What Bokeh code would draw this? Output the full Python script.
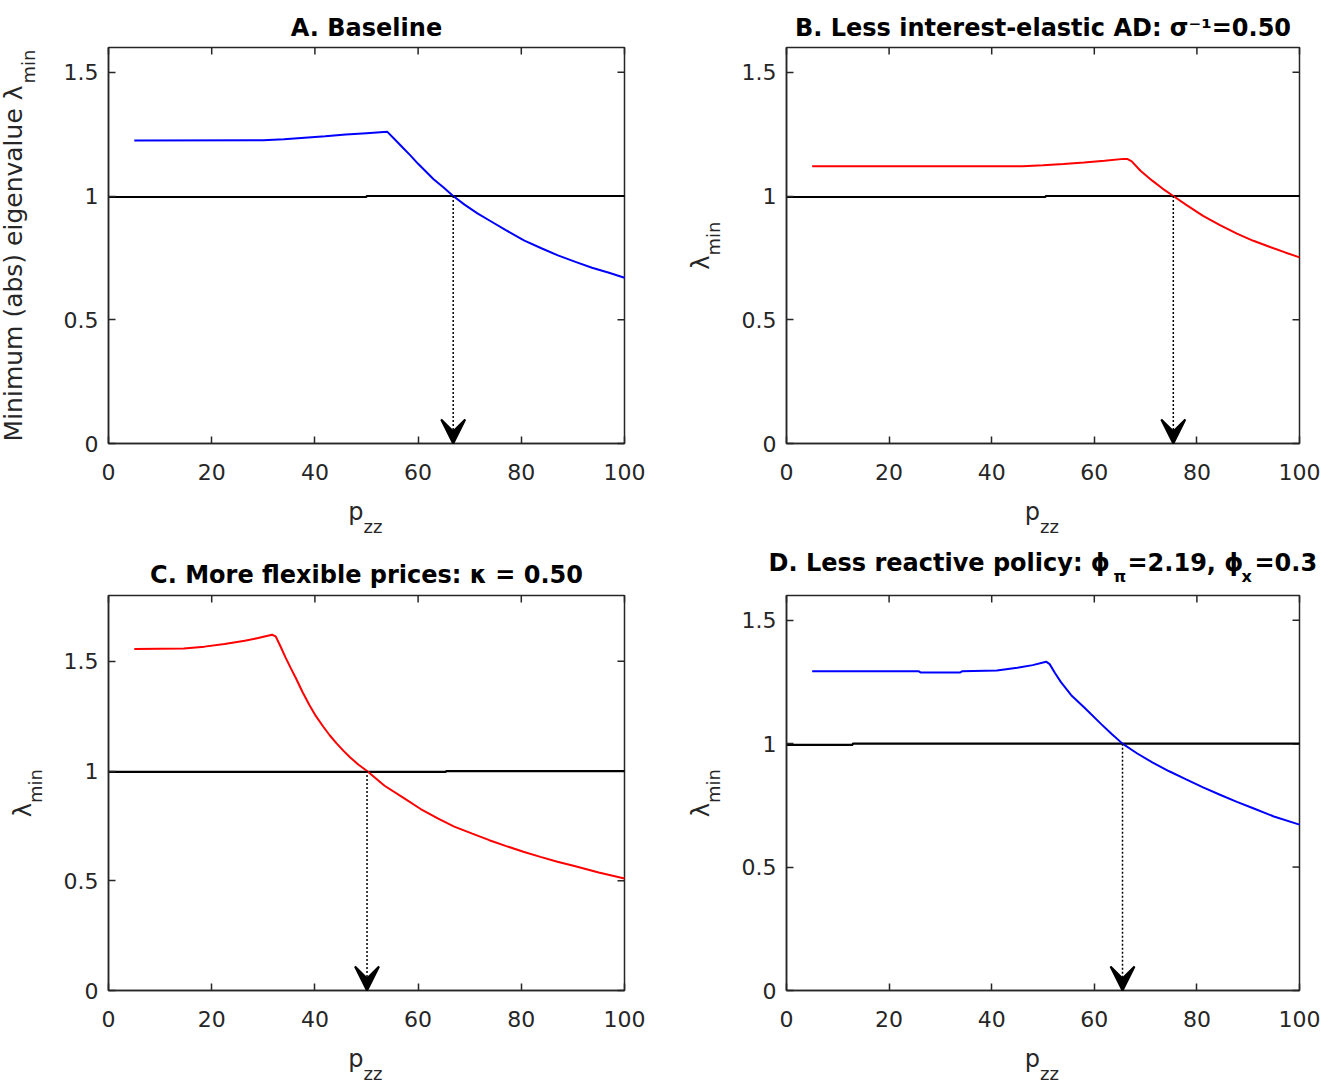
import math
from bokeh.plotting import figure
from bokeh.models import Range1d, FixedTicker, Label, Arrow, VeeHead, NumeralTickFormatter
from bokeh.layouts import column, row
from bokeh.embed import file_html
from bokeh.resources import INLINE

# ---------------- data ----------------
X_MAX = 100
x_ticks = [0, 20, 40, 60, 80, 100]
y_ticks = [0, 0.5, 1, 1.5]
y_tick_labels = ["0", "0.5", "1", "1.5"]

# Panel A: Baseline (blue)
a_x = [5, 30, 34, 38, 42, 46, 50, 54.0, 55.5, 57.0, 58.5, 60.0, 61.5, 63.0, 65.0, 66.8, 69.0, 71.5,
       74.0, 77.0, 80.6, 84.0, 87.1, 90.5, 93.7, 97.0, 100]
a_y = [1.224, 1.225, 1.229, 1.235, 1.241, 1.248, 1.254, 1.260, 1.228, 1.196, 1.164, 1.130, 1.099, 1.068,
       1.033, 1.000, 0.965, 0.930, 0.899, 0.862, 0.820, 0.788, 0.760, 0.734, 0.710, 0.690, 0.670]
a_one_x = [0, 50, 50, 100]
a_one_y = [0.996, 0.996, 1.0, 1.0]
a_cross = 66.8

# Panel B: less interest-elastic AD (red)
b_x = [5, 46, 50, 54, 58, 62, 65.7, 66.5, 67.3, 69.0, 71.3, 73.3, 75.4, 78.0, 81.2, 84.5, 87.8, 91.0,
       94.4, 97.2, 100]
b_y = [1.120, 1.120, 1.124, 1.129, 1.135, 1.142, 1.150, 1.149, 1.140, 1.102, 1.062, 1.030, 1.000, 0.963,
       0.920, 0.882, 0.848, 0.819, 0.793, 0.772, 0.752]
b_one_x = [0, 50.5, 50.5, 100]
b_one_y = [0.996, 0.996, 1.0, 1.0]
b_cross = 75.4

# Panel C: more flexible prices (red)
c_x = [5, 14.6, 18.6, 22.5, 26.4, 29.0, 31.7, 32.4, 33.3, 34.3, 35.3, 36.3, 37.6, 38.9, 40.2, 41.6,
       42.9, 44.2, 45.5, 46.8, 48.4, 50.1, 53.5, 57.4, 60.5, 63.9, 67.0, 70.5, 73.8, 77.1, 80.4, 83.7,
       87.0, 90.3, 95.0, 100]
c_y = [1.556, 1.558, 1.567, 1.579, 1.594, 1.606, 1.621, 1.614, 1.570, 1.518, 1.470, 1.424, 1.360, 1.302,
       1.250, 1.203, 1.162, 1.126, 1.093, 1.063, 1.030, 1.000, 0.933, 0.874, 0.827, 0.783, 0.747, 0.715,
       0.685, 0.658, 0.632, 0.609, 0.587, 0.567, 0.538, 0.510]
c_one_x = [0, 65.4, 65.4, 100]
c_one_y = [0.996, 0.996, 1.0, 1.0]
c_cross = 50.1

# Panel D: less reactive policy (blue)
d_x = [5, 25.8, 26.2, 33.8, 34.2, 41.0, 45.0, 48.0, 50.6, 51.3, 52.3, 53.5, 55.5, 58.1, 61.4, 63.5,
       65.5, 68.3, 71.3, 74.6, 77.9, 81.2, 84.5, 87.8, 91.1, 95.0, 100]
d_y = [1.293, 1.293, 1.288, 1.288, 1.293, 1.296, 1.307, 1.318, 1.332, 1.322, 1.287, 1.249, 1.196, 1.145,
       1.078, 1.037, 1.000, 0.961, 0.924, 0.888, 0.855, 0.823, 0.793, 0.764, 0.737, 0.705, 0.672]
d_one_x = [0, 12.9, 12.9, 100]
d_one_y = [0.995, 0.995, 1.0, 1.0]
d_cross = 65.5

# ---------------- styling ----------------
FONT = "DejaVu Sans"
AX_COL = "#262626"


def style_axis(ax, ticks, lo, hi, standoff):
    ax.fixed_location = 0
    ax.bounds = (lo, hi)
    ax.ticker = FixedTicker(ticks=ticks)
    ax.major_tick_in = 7
    ax.major_tick_out = 0
    ax.minor_tick_in = 0
    ax.minor_tick_out = 0
    ax.axis_line_color = AX_COL
    ax.axis_line_width = 1.5
    ax.major_tick_line_color = AX_COL
    ax.major_tick_line_width = 1.5
    ax.major_label_text_font = FONT
    ax.major_label_text_color = AX_COL
    ax.major_label_text_font_size = "22px"
    ax.major_label_standoff = standoff


def make_panel(cell_w, cell_h, box_l, box_t, box_w, box_h, y_max, xs, ys, color, one_x, one_y, cross):
    px_x = box_w / X_MAX
    px_y = box_h / y_max
    xr = Range1d(-box_l / px_x, X_MAX + (cell_w - box_l - box_w) / px_x)
    yr = Range1d(-(cell_h - box_t - box_h) / px_y, y_max + box_t / px_y)
    p = figure(width=cell_w, height=cell_h, x_range=xr, y_range=yr,
               output_backend="svg", toolbar_location=None, tools="", min_border=0)
    p.xgrid.visible = False
    p.ygrid.visible = False
    p.outline_line_color = None
    p.background_fill_color = "white"
    p.border_fill_color = "white"

    style_axis(p.xaxis[0], x_ticks, 0, X_MAX, 20)
    style_axis(p.yaxis[0], y_ticks, 0, y_max, 10)
    p.yaxis[0].formatter = NumeralTickFormatter(format="0.[0]")
    p.yaxis[0].major_label_overrides = dict(zip(y_ticks, y_tick_labels))

    # box and inward ticks on the top and right sides
    p.quad(left=[0], right=[X_MAX], bottom=[0], top=[y_max], fill_color=None,
           line_color=AX_COL, line_width=1.5)
    p.ray(x=[X_MAX] * len(y_ticks), y=y_ticks, length=7, length_units="screen",
          angle=math.pi, line_color=AX_COL, line_width=1.5)
    p.ray(x=x_ticks, y=[y_max] * len(x_ticks), length=7, length_units="screen",
          angle=-math.pi / 2, line_color=AX_COL, line_width=1.5)

    p.line(one_x, one_y, line_color="black", line_width=2.2)
    p.line(xs, ys, line_color=color, line_width=2)
    p.add_layout(Arrow(x_start=cross, y_start=1.0, x_end=cross, y_end=0.0,
                       line_color="black", line_width=1.5, line_dash="2 2",
                       end=VeeHead(size=24, fill_color="black", line_color="black", line_width=2)))
    return p


def add_text(p, text, x, y, xo, yo, size, align="center", bold=False, angle=0):
    p.add_layout(Label(x=x, y=y, x_offset=xo, y_offset=yo, text=text, text_font=FONT,
                       text_font_size=f"{size}px", text_font_style="bold" if bold else "normal",
                       text_color="black" if bold else AX_COL, text_align=align,
                       text_baseline="alphabetic", angle=angle, angle_units="deg"))


def add_xlabel(p):
    add_text(p, "p", 50, 0, -3, -68, 24, align="right")
    add_text(p, "zz", 50, 0, -3, -83, 18, align="left")


def add_lambda(p, y_mid):
    add_text(p, "\u03bb", 0, y_mid, -86, -10, 24, align="right", angle=90)
    add_text(p, "min", 0, y_mid, -73, -10, 18, align="left", angle=90)


pA = make_panel(668, 548, 108, 47, 516, 396, 1.6, a_x, a_y, "blue", a_one_x, a_one_y, a_cross)
pB = make_panel(666, 548, 118, 47, 513, 396, 1.6, b_x, b_y, "red", b_one_x, b_one_y, b_cross)
pC = make_panel(668, 538, 108, 47, 516, 395, 1.8, c_x, c_y, "red", c_one_x, c_one_y, c_cross)
pD = make_panel(666, 538, 118, 47, 513, 395, 1.6, d_x, d_y, "blue", d_one_x, d_one_y, d_cross)

# titles
add_text(pA, "A. Baseline", 50, 1.6, 0, 20, 24, bold=True)
add_text(pB, "B. Less interest-elastic AD: \u03c3\u207b\u00b9=0.50", 50, 1.6, 0, 20, 24, bold=True)
add_text(pC, "C. More flexible prices: \u03ba = 0.50", 50, 1.8, 0, 21, 24, bold=True)
add_text(pD, "D. Less reactive policy: \u03d5", 0, 1.6, -18, 33, 24, align="left", bold=True)
add_text(pD, "\u03c0", 0, 1.6, 327, 19, 16, align="left", bold=True)
add_text(pD, "=2.19, \u03d5", 0, 1.6, 341, 33, 24, align="left", bold=True)
add_text(pD, "x", 0, 1.6, 455, 19, 16, align="left", bold=True)
add_text(pD, "=0.3", 0, 1.6, 468, 33, 24, align="left", bold=True)

# x labels
for p in (pA, pB, pC, pD):
    add_xlabel(p)

# y labels
add_text(pA, "Minimum (abs) eigenvalue \u03bb", 0, 0.8, -95, 160, 25, align="right", angle=90)
add_text(pA, "min", 0, 0.8, -80, 162, 18, align="left", angle=90)
add_lambda(pB, 0.8)
add_lambda(pC, 0.9)
add_lambda(pD, 0.8)

layout = column(row(pA, pB, spacing=0), row(pC, pD, spacing=0), spacing=0)
open("out.html", "w").write(file_html(layout, INLINE))
